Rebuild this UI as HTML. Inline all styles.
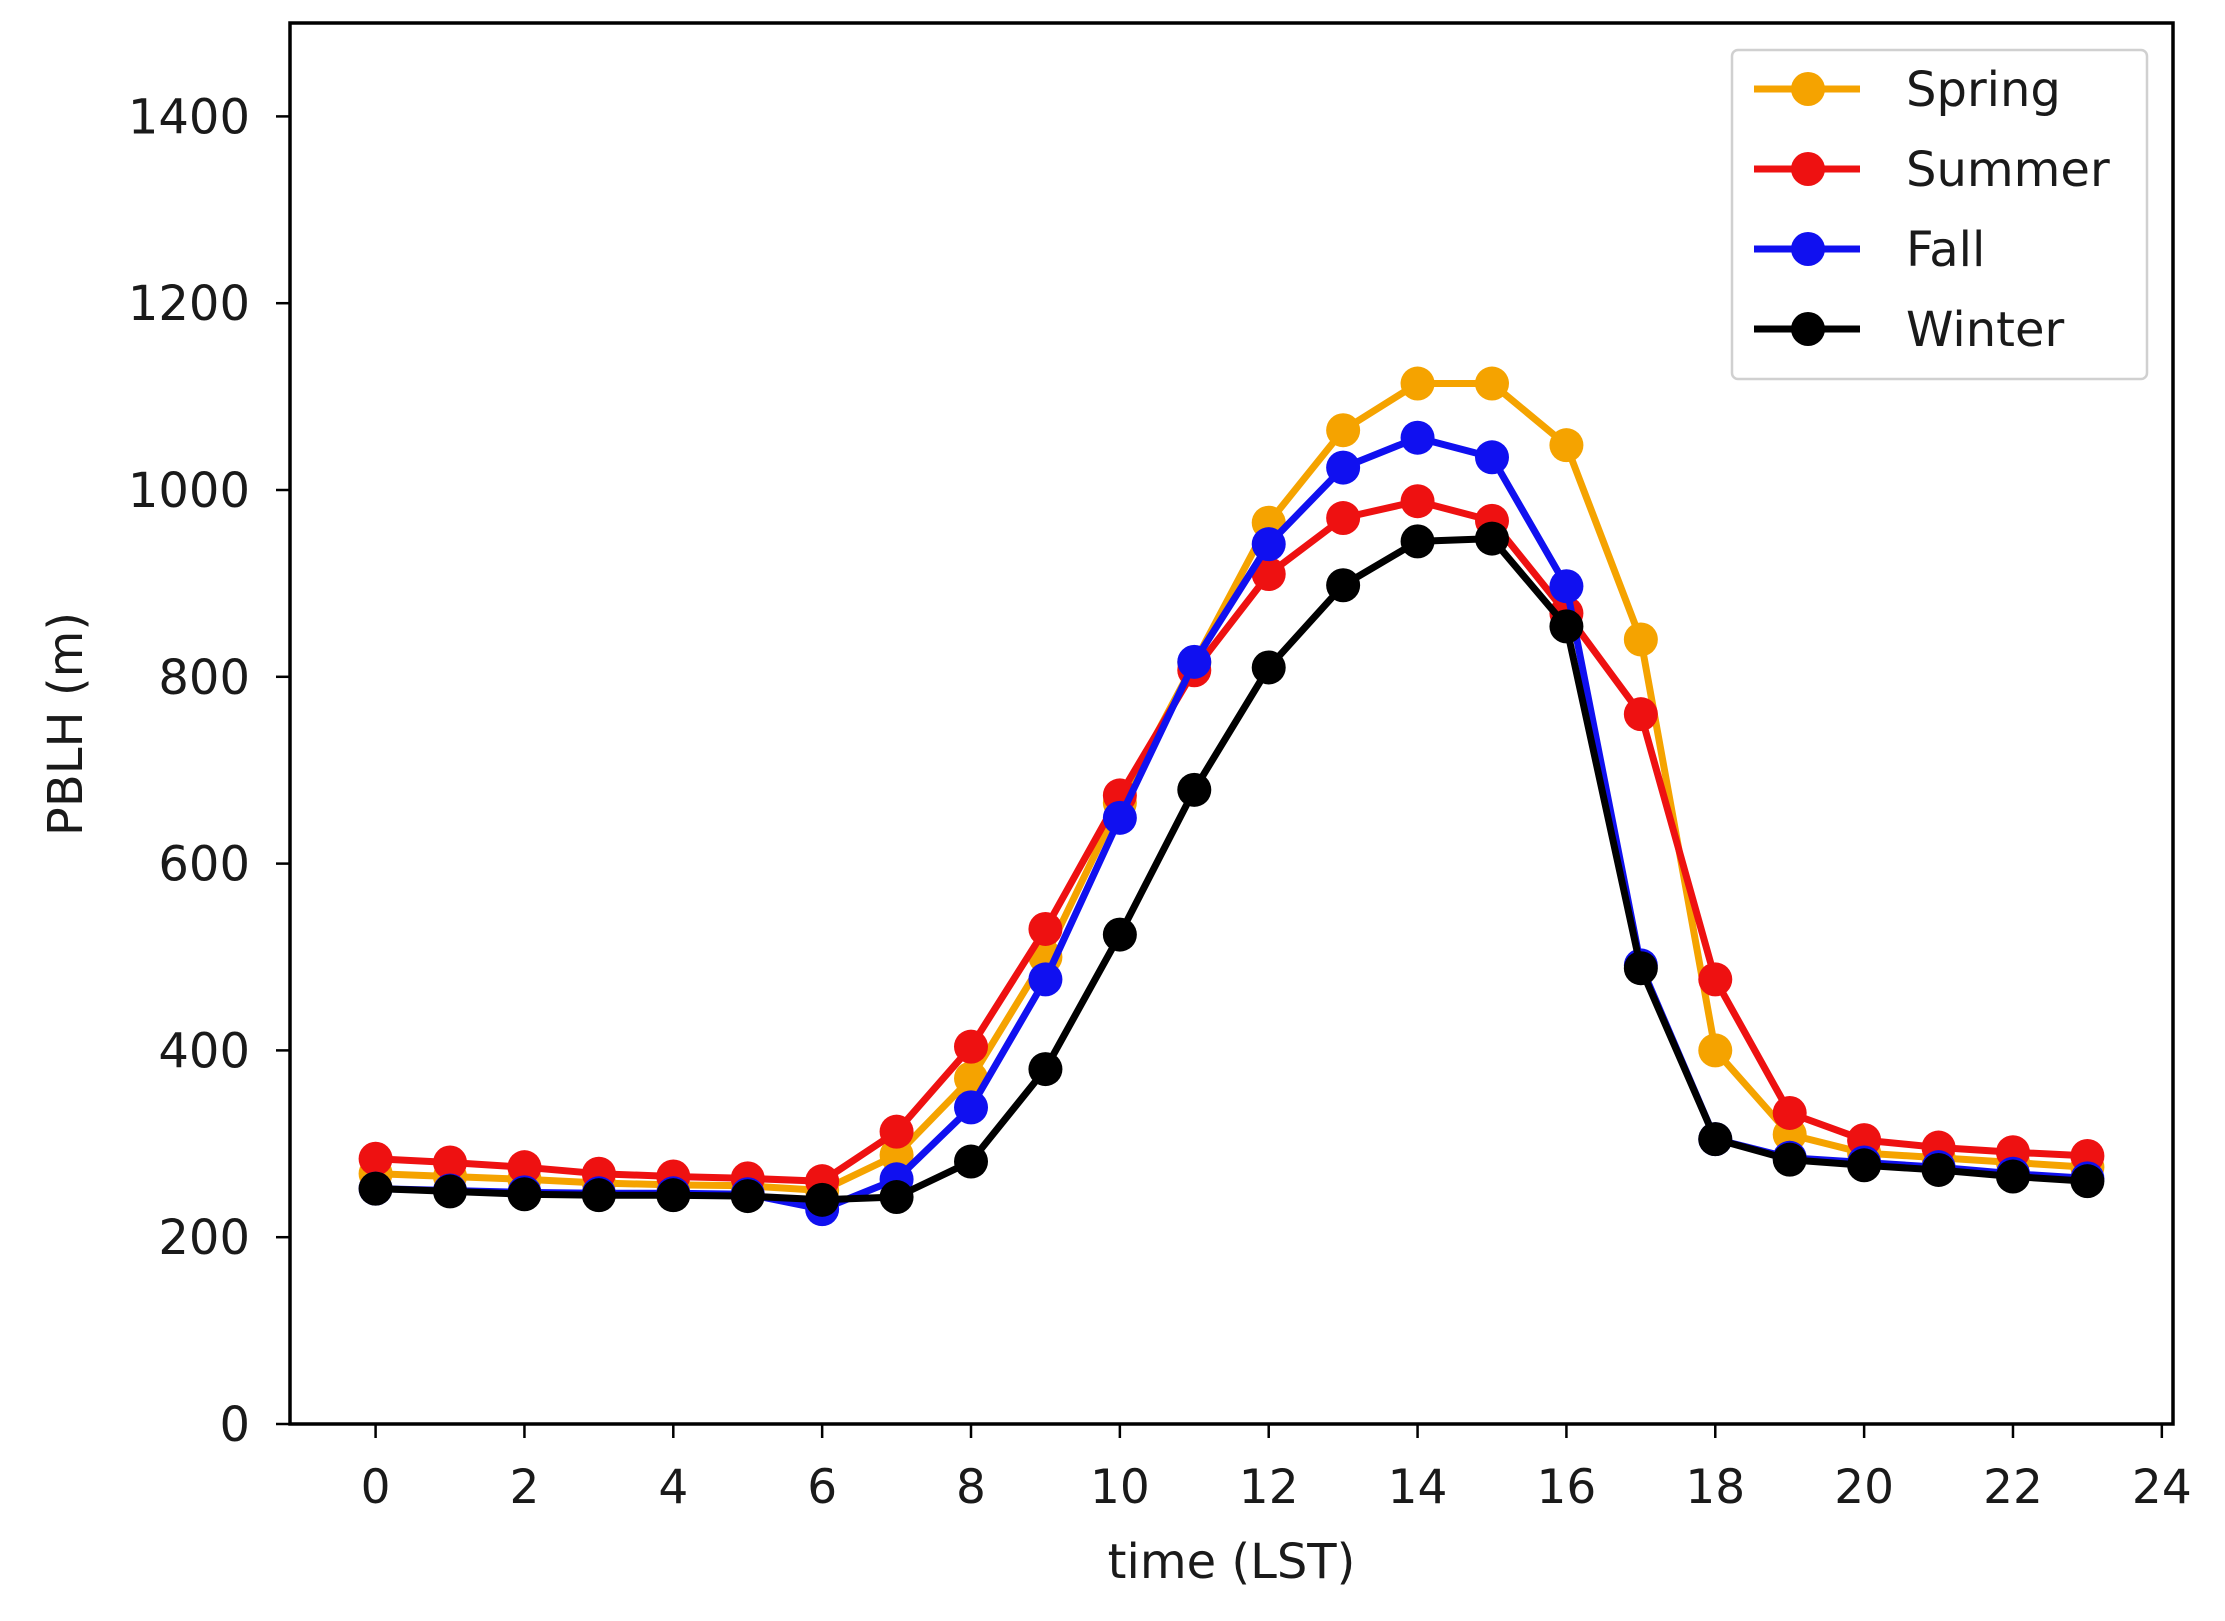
<!DOCTYPE html>
<html><head><meta charset="utf-8"><style>
html,body{margin:0;padding:0;background:#fff;}
svg{display:block;}
text{font-family:"DejaVu Sans","Liberation Sans",sans-serif;fill:#1a1a1a;}
</style></head>
<body>
<svg id="chart" width="2225" height="1621" viewBox="0 0 2225 1621" xmlns="http://www.w3.org/2000/svg">
<rect x="0" y="0" width="2225" height="1621" fill="#fff"/>
<g id="series"></g>
<g id="axes"></g>
<g id="legend"></g>
</svg>
<script>
const hours = [0,1,2,3,4,5,6,7,8,9,10,11,12,13,14,15,16,17,18,19,20,21,22,23];
const springVals = [268,265,262,258,256,255,250,288,370,500,665,815,965,1064,1114,1114,1048,840,400,310,290,285,280,275];
const summerVals = [284,280,275,268,265,263,260,313,404,530,673,807,910,970,988,967,868,760,476,333,304,296,291,287];
const fallVals = [252,250,248,247,247,246,230,262,339,476,649,816,942,1024,1056,1035,897,491,305,285,280,275,268,263];
const winterVals = [252,249,246,245,245,244,240,243,281,380,524,679,810,898,945,948,854,488,305,283,277,272,265,260];
const seriesNames = ["Spring","Summer","Fall","Winter"];
const seriesColors = ["#f5a300","#ee1111","#1010f0","#000000"];
const xTicks = [0,2,4,6,8,10,12,14,16,18,20,22,24];
const yTicks = [0,200,400,600,800,1000,1200,1400];

const L=290,R=2173,T=23,B=1424;
const xMin=-1.15,xMax=24.15,yMin=0,yMax=1500;
function xs(v){return L+(v-xMin)/(xMax-xMin)*(R-L);}
function ys(v){return B-(v-yMin)/(yMax-yMin)*(B-T);}
const NS="http://www.w3.org/2000/svg";
function mk(tag,attrs,parent){const e=document.createElementNS(NS,tag);for(const k in attrs)e.setAttribute(k,attrs[k]);parent.appendChild(e);return e;}

const sg=document.getElementById('series');
const allVals=[springVals,summerVals,fallVals,winterVals];
allVals.forEach((vals,si)=>{
  const g=mk('g',{},sg);
  
  
  const pts=hours.map((h,i)=>xs(h).toFixed(1)+','+ys(vals[i]).toFixed(1)).join(' ');
  const pl=mk('polyline',{points:pts,fill:'none',stroke:seriesColors[si],'stroke-width':7,'stroke-linejoin':'round'},g);
  
  
  hours.forEach((h,i)=>{
    const c=mk('circle',{cx:xs(h),cy:ys(vals[i]),r:17,fill:seriesColors[si]},g);
    
    
  });
});

const ag=document.getElementById('axes');
const frame=mk('rect',{x:L,y:T,width:R-L,height:B-T,fill:'none',stroke:'#000','stroke-width':3.5},ag);


xTicks.forEach(t=>{
  const x=xs(t);
  const tk=mk('line',{x1:x,y1:B,x2:x,y2:B+14,stroke:'#000','stroke-width':2.5},ag);
  
  
  const tx=mk('text',{x:x,y:1503,'font-size':47,'text-anchor':'middle'},ag);
  tx.textContent=t;
  
  
});
yTicks.forEach(t=>{
  const y=ys(t);
  const tk=mk('line',{x1:L-14,y1:y,x2:L,y2:y,stroke:'#000','stroke-width':2.5},ag);
  
  
  const tx=mk('text',{x:L-40,y:y+17,'font-size':48,'text-anchor':'end'},ag);
  tx.textContent=t;
  
  
});
const xt=mk('text',{x:(L+R)/2,y:1578,'font-size':48,'text-anchor':'middle'},ag);
xt.textContent='time (LST)';


const yt=mk('text',{x:0,y:0,'font-size':48,'text-anchor':'middle',transform:'translate(82,724) rotate(-90)'},ag);
yt.textContent='PBLH (m)';



const lg=document.getElementById('legend');


const box=mk('rect',{x:1732,y:50,width:415,height:329,rx:6,fill:'#fff',stroke:'#d0d0d0','stroke-width':2.5,'fill-opacity':0.9},lg);


seriesNames.forEach((n,i)=>{
  const y=89+i*80;
  const g=mk('g',{},lg);
  
  
  mk('line',{x1:1754,y1:y,x2:1860,y2:y,stroke:seriesColors[i],'stroke-width':7},g);
  mk('circle',{cx:1808,cy:y,r:17,fill:seriesColors[i]},g);
  const t=mk('text',{x:1906,y:y+17,'font-size':48},g);
  t.textContent=n;
});
</script>
</body></html>
